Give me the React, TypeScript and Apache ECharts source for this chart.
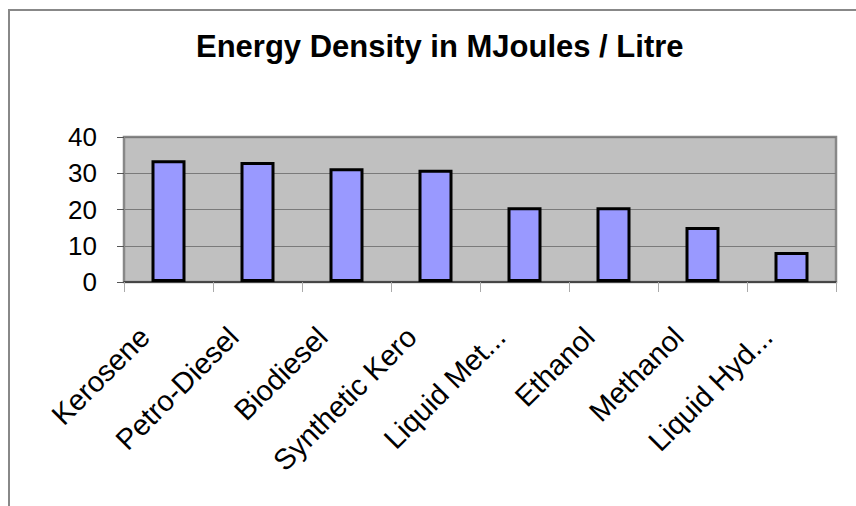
import React, { useEffect, useRef } from "react";
import * as echarts from "echarts";

const categories = [
  "Kerosene",
  "Petro-Diesel",
  "Biodiesel",
  "Synthetic Kero",
  "Liquid Met...",
  "Ethanol",
  "Methanol",
  "Liquid Hyd...",
];
const energyDensity = [33.6, 33.1, 31.4, 31.0, 20.6, 20.6, 15.2, 8.3];
const titleText = "Energy Density in MJoules / Litre";

export default function App() {
  const ref = useRef<HTMLDivElement>(null);
  useEffect(() => {
    document.body.style.margin = "0";
    if (!ref.current) return;
    const chart = echarts.init(ref.current, null, { renderer: "svg" });
    chart.setOption({
      animation: false,
      backgroundColor: "#ffffff",
      title: {
        text: titleText,
        left: 191,
        top: 26,
        textStyle: {
          fontFamily: "Liberation Sans, Arial, sans-serif",
          fontWeight: "bold",
          fontSize: 31,
          color: "#000",
        },
      },
      graphic: [
        { type: "line", shape: { x1: 9, y1: 10, x2: 9, y2: 506 }, style: { stroke: "#888", lineWidth: 2 } },
        { type: "line", shape: { x1: 8, y1: 10, x2: 856, y2: 10 }, style: { stroke: "#888", lineWidth: 2 } },
      ],
      grid: {
        left: 124,
        top: 137,
        right: 20,
        bottom: 224,
        show: true,
        backgroundColor: "#c0c0c0",
        borderColor: "#888",
        borderWidth: 2.5,
      },
      xAxis: {
        type: "category",
        data: categories,
        axisLine: { show: true, lineStyle: { color: "#333", width: 1.5 } },
        axisTick: { show: true, length: 10, lineStyle: { color: "#aaa" } },
        axisLabel: {
          rotate: 45,
          fontSize: 29,
          fontFamily: "Liberation Sans, Arial, sans-serif",
          color: "#000",
          margin: 26,
          padding: [0, 34, 0, 0],
          interval: 0,
        },
      },
      yAxis: {
        type: "value",
        min: 0,
        max: 40,
        interval: 10,
        axisLine: { show: true, lineStyle: { color: "#888", width: 2 } },
        axisTick: { show: true, length: 7, lineStyle: { color: "#555" } },
        axisLabel: {
          fontSize: 26,
          fontFamily: "Liberation Sans, Arial, sans-serif",
          color: "#000",
          margin: 27,
        },
        splitLine: { show: true, lineStyle: { color: "#7a7a7a", width: 1 } },
      },
      series: [
        {
          type: "bar",
          data: energyDensity,
          barWidth: 34,
          itemStyle: { color: "#9999ff", borderColor: "#000", borderWidth: 3 },
        },
      ],
    });
    return () => chart.dispose();
  }, []);
  return <div ref={ref} style={{ width: 856, height: 506 }} />;
}
